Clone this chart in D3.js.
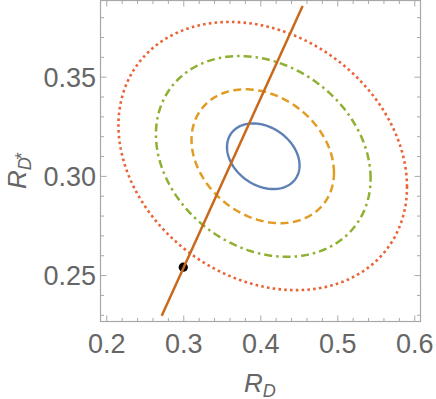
<!DOCTYPE html>
<html><head><meta charset="utf-8">
<script src="https://cdn.jsdelivr.net/npm/d3@7"></script>
<style>html,body{margin:0;padding:0;background:#fff;} svg{display:block;}</style>
</head><body>
<svg id="chart" width="436" height="399"></svg>
<script>
// ---- data ----
const contourNames = ["c1", "c2", "c3", "c4"];
const contourCenterX = [0.4039, 0.4032, 0.4039, 0.4032];
const contourCenterY = [0.3099, 0.3099, 0.3098, 0.3100];
const contourHalfWidth = [0.0471, 0.0925, 0.1394, 0.1874];
const contourHalfHeight = [0.01654, 0.03374, 0.0506, 0.0676];
const contourCorrelation = [-0.28, -0.245, -0.22, -0.23];
const lineX = [0.272, 0.455];
const lineY = [0.2295, 0.3856];
const pointX = [0.300];
const pointY = [0.254];
const xTickValues = [0.2, 0.3, 0.4, 0.5, 0.6];
const xTickLabels = ["0.2", "0.3", "0.4", "0.5", "0.6"];
const xMinorTicks = [0.22, 0.24, 0.26, 0.28, 0.32, 0.34, 0.36, 0.38, 0.42, 0.44, 0.46, 0.48, 0.52, 0.54, 0.56, 0.58];
const yTickValues = [0.25, 0.30, 0.35];
const yTickLabels = ["0.25", "0.30", "0.35"];
const yMinorTicks = [0.23, 0.24, 0.26, 0.27, 0.28, 0.29, 0.31, 0.32, 0.33, 0.34, 0.36, 0.37, 0.38];

// ---- styles ----
const contourColors = ["#5E81B5", "#E19C24", "#8FB032", "#EB6235"];
const contourDash = [null, "8,4.5", "8,4,2.5,4", "2.6,3.2"];
const contourWidth = [2.4, 2.5, 2.5, 2.6];
const frameColor = "#a8a8a8";
const textColor = "#666666";
const font = "'Liberation Sans', Arial, Helvetica, sans-serif";

const L = 100.5, R = 420.5, T = 0.5, B = 321.5;
const x = d3.scaleLinear().domain([0.1925, 0.6081]).range([L, R]);
const y = d3.scaleLinear().domain([0.2266, 0.3884]).range([B, T]);

const svg = d3.select("#chart");

// contours
const line = d3.line().x(d => x(d[0])).y(d => y(d[1])).curve(d3.curveLinearClosed);
const tSteps = d3.range(0, 360, 2).map(a => a * Math.PI / 180);
contourNames.forEach((name, i) => {
  const r = contourCorrelation[i];
  const pts = tSteps.map(t => [
    contourCenterX[i] + contourHalfWidth[i] * Math.cos(t),
    contourCenterY[i] + contourHalfHeight[i] * (r * Math.cos(t) + Math.sqrt(1 - r * r) * Math.sin(t))
  ]);
  svg.append("path")
    .attr("d", line(pts))
    .attr("fill", "none")
    .attr("stroke", contourColors[i])
    .attr("stroke-width", contourWidth[i])
    .attr("stroke-dasharray", contourDash[i]);
});

// point
svg.selectAll("circle.pt").data(pointX).enter().append("circle")
  .attr("cx", (d, i) => x(d)).attr("cy", (d, i) => y(pointY[i]))
  .attr("r", 4.6).attr("fill", "#000");

// straight line
const seg = lineX.map((d, i) => [d, lineY[i]]);
svg.append("path")
  .attr("d", d3.line().x(d => x(d[0])).y(d => y(d[1]))(seg))
  .attr("fill", "none").attr("stroke", "#C8691C").attr("stroke-width", 2.5);

// frame
svg.append("rect").attr("x", L).attr("y", T).attr("width", R - L).attr("height", B - T)
  .attr("fill", "none").attr("stroke", frameColor).attr("stroke-width", 1.2);

function styleAxis(g) {
  g.select(".domain").remove();
  g.selectAll(".tick line").attr("stroke", frameColor).attr("stroke-width", 1);
  g.selectAll(".tick text").attr("fill", textColor).attr("font-family", font).attr("font-size", 27);
}
// major ticks with labels
svg.append("g").attr("transform", `translate(0,${B})`)
  .call(d3.axisBottom(x).tickValues(xTickValues).tickFormat((d, i) => xTickLabels[i]).tickSize(-6).tickPadding(12.5))
  .call(styleAxis);
svg.append("g").attr("transform", `translate(${L},0)`)
  .call(d3.axisLeft(y).tickValues(yTickValues).tickFormat((d, i) => yTickLabels[i]).tickSize(-6).tickPadding(4.5))
  .call(styleAxis)
  .call(g => g.selectAll(".tick text").attr("dy", "0.36em"));
svg.append("g").attr("transform", `translate(0,${T})`)
  .call(d3.axisTop(x).tickValues(xTickValues).tickFormat("").tickSize(-6)).call(styleAxis);
svg.append("g").attr("transform", `translate(${R},0)`)
  .call(d3.axisRight(y).tickValues(yTickValues).tickFormat("").tickSize(-6)).call(styleAxis);
// minor ticks
svg.append("g").attr("transform", `translate(0,${B})`)
  .call(d3.axisBottom(x).tickValues(xMinorTicks).tickFormat("").tickSize(-3.5)).call(styleAxis);
svg.append("g").attr("transform", `translate(0,${T})`)
  .call(d3.axisTop(x).tickValues(xMinorTicks).tickFormat("").tickSize(-3.5)).call(styleAxis);
svg.append("g").attr("transform", `translate(${L},0)`)
  .call(d3.axisLeft(y).tickValues(yMinorTicks).tickFormat("").tickSize(-3.5)).call(styleAxis);
svg.append("g").attr("transform", `translate(${R},0)`)
  .call(d3.axisRight(y).tickValues(yMinorTicks).tickFormat("").tickSize(-3.5)).call(styleAxis);

// axis labels
const xl = svg.append("text").attr("x", 244).attr("y", 391.5)
  .attr("fill", textColor).attr("font-family", font).attr("font-style", "italic").attr("font-size", 26);
xl.append("tspan").text("R");
xl.append("tspan").attr("font-size", 18).attr("dy", 5).text("D");

const yl = svg.append("text").attr("transform", "translate(25.7,189) rotate(-90)")
  .attr("fill", textColor).attr("font-family", font).attr("font-style", "italic").attr("font-size", 26);
yl.append("tspan").text("R");
yl.append("tspan").attr("font-size", 18).attr("dy", 5).text("D");
yl.append("tspan").attr("font-size", 18).attr("dy", -3).attr("dx", -2).attr("font-style", "normal").text("*");
</script>
</body></html>
